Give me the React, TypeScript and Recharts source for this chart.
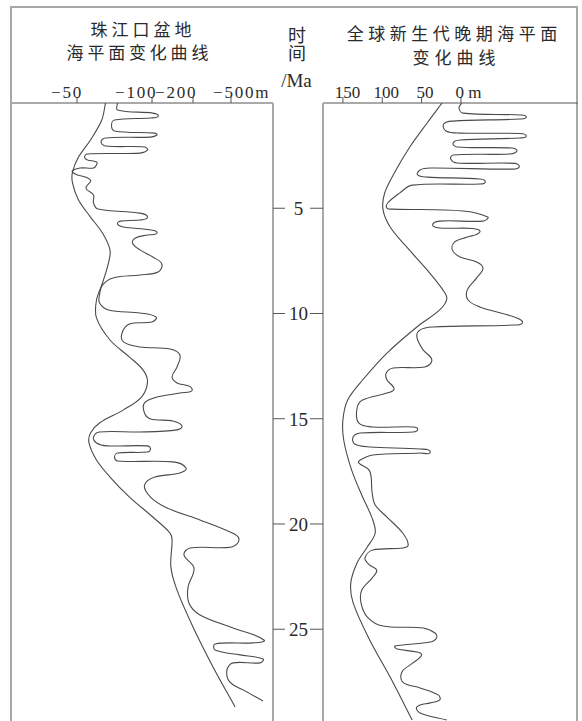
import React from 'react';
import { ScatterChart, Scatter, XAxis, YAxis } from 'recharts';

// ---- Pearl River Mouth Basin (珠江口盆地) sea-level curves: time (Ma) / level (m)
const prmbLongTime = [0, 0.81, 1.76, 2.57, 3.28, 3.8, 4.61, 5.42, 6.18, 6.98, 7.6, 8.55, 9.36, 10.21, 11.26, 12.07, 12.68, 13.25, 13.97, 14.58, 15.2, 15.68, 16.15, 16.96, 17.77, 18.72, 19.67, 20.43, 20.76, 22.04, 23.14, 24.89, 26.79, 28.69];
const prmbLongLevel = [-69, -66.5, -59, -51, -47, -47, -51, -59, -67, -72, -71, -67, -63, -63, -72, -85, -94, -97, -93, -81, -65, -59, -58, -63, -72, -85, -102, -144, -149, -146, -161, -200, -358, -532];

const prmbShortTime = [0, 0.33, 0.48, 0.62, 0.71, 0.81, 1.05, 1.33, 1.43, 1.52, 1.62, 1.66, 1.85, 2.04, 2.09, 2.23, 2.38, 2.42, 2.57, 2.71, 2.8, 2.95, 3.09, 3.09, 3.28, 3.66, 4.04, 4.37, 4.75, 5.04, 5.23, 5.42, 5.56, 5.61, 5.75, 5.89, 6.03, 6.18, 6.27, 6.41, 6.65, 6.98, 7.32, 7.65, 8.03, 8.17, 8.31, 8.65, 9.12, 9.5, 9.83, 9.98, 10.17, 10.4, 10.5, 10.93, 11.35, 11.59, 11.69, 11.97, 12.54, 13.02, 13.3, 13.59, 13.78, 13.97, 14.25, 14.73, 15.01, 15.11, 15.34, 15.53, 15.63, 15.63, 15.87, 16.15, 16.29, 16.29, 16.44, 16.58, 16.63, 16.82, 17.01, 17.05, 17.34, 17.58, 17.77, 18.15, 18.72, 19.24, 19.81, 20.38, 20.71, 21.09, 21.14, 21.47, 22.09, 22.99, 23.75, 24.32, 24.94, 25.51, 25.65, 25.7, 25.99, 26.22, 26.41, 26.6, 26.6, 26.94, 27.51, 27.98, 28.41];
const prmbShortLevel = [-77, -77, -102, -115, -99, -75, -73, -75, -107, -112, -99, -69, -66, -69, -95, -97, -92, -57, -55, -57, -63, -63, -61, -52, -47, -59, -56, -61, -61, -64, -92, -97, -92, -79, -77, -81, -99, -112, -97, -89, -87, -92, -102, -124, -115, -92, -74, -67, -65, -65, -71, -92, -110, -100, -85, -80, -81, -92, -144, -168, -161, -149, -161, -198, -168, -112, -95, -95, -99, -151, -173, -161, -92, -65, -61, -63, -70, -97, -99, -97, -77, -75, -77, -151, -183, -168, -107, -95, -99, -137, -255, -492, -563, -508, -193, -178, -208, -188, -190, -255, -516, -760, -674, -374, -374, -571, -753, -729, -516, -468, -492, -626, -753];

// ---- Global late Cenozoic sea-level curves (全球新生代晚期): time (Ma) / level (m)
const globalLongTime = [0, 0.95, 2.09, 3.28, 4.28, 5.08, 5.89, 6.84, 7.93, 8.88, 9.31, 9.83, 10.64, 11.88, 13.16, 14.11, 15.06, 16.01, 17.43, 18.72, 19.71, 20.43, 21.09, 21.85, 22.8, 23.75, 25.51, 27.27, 29.31];
const globalLongLevel = [24, 43, 65, 84, 97, 99, 90, 69, 43, 23, 18, 27, 56, 94, 125, 144, 150, 149, 139, 125, 113, 109, 119, 132, 140, 137, 116, 90, 62];

const globalShortTime = [0, 0.24, 0.48, 0.57, 0.67, 0.76, 0.86, 1.0, 1.33, 1.43, 1.45, 1.57, 1.66, 1.76, 1.9, 2.09, 2.14, 2.28, 2.42, 2.47, 2.66, 2.85, 2.87, 3.04, 3.14, 3.09, 3.18, 3.42, 3.52, 3.61, 3.75, 3.85, 3.9, 4.28, 4.75, 4.99, 5.04, 5.13, 5.42, 5.61, 5.61, 5.8, 5.94, 5.96, 6.13, 6.37, 6.6, 6.98, 7.32, 7.55, 7.84, 8.31, 8.88, 9.36, 9.69, 10.21, 10.45, 10.55, 10.64, 10.78, 11.12, 11.73, 12.21, 12.54, 12.59, 12.83, 13.16, 13.59, 13.78, 14.11, 14.49, 15.2, 15.39, 15.39, 15.49, 15.63, 15.68, 15.87, 16.2, 16.34, 16.44, 16.58, 16.63, 16.72, 16.96, 17.1, 17.48, 18.48, 19.1, 19.67, 20.43, 21.0, 21.14, 21.24, 21.62, 21.95, 22.19, 22.57, 23.14, 23.75, 24.42, 24.85, 24.94, 25.18, 25.42, 25.61, 25.8, 25.94, 26.08, 26.22, 26.6, 27.03, 27.51, 27.79, 28.12, 28.36, 28.5, 28.69, 28.98, 29.31];
const globalShortLevel = [-1, 2.5, -2.5, -75, -83, -75, 10, 22, 19, 1, -75, -83, -75, 1, 10, 5, -65, -71, -62, 10, 13, 5, -69, -74, -66, 39, 52, 55, 43, -24, -31, -24, 62, 78, 93, 94, 86, -2.5, -34, -28, 27, 36, 27, -15, -24, -8, 8, 11, 1, -20, -28, -20, -8, -9, -24, -71, -78, -66, 36, 52, 56, 48, 37, 46, 86, 95, 94, 85, 94, 125, 132, 130, 112, 61, 55, 61, 128, 137, 135, 116, 52, 39, 52, 112, 128, 130, 116, 113, 109, 94, 74, 67, 74, 112, 122, 116, 107, 113, 126, 127, 119, 99, 48, 33, 31, 39, 84, 81, 56, 50, 61, 75, 74, 52, 29, 27, 39, 56, 52, 18];

// ---- Axis ticks / labels
const timeTicks = [5, 10, 15, 20, 25];
const leftTickValues = [-50, -100, -200, -500];
const leftTickLabels = ['−50', '−100', '−200', '−500m'];
const rightTickValues = [150, 100, 50, 0];
const rightTickLabels = ['150', '100', '50', '0 m'];

// Non-linear depth scale of the left panel (anchors of the printed ticks)
const LEFT_SCALE_DEPTH = [50, 100, 200, 500];
const LEFT_SCALE_UNIT = [65, 140, 181, 219];
function depthToUnit(level: number) {
  const a = Math.abs(level);
  const D = LEFT_SCALE_DEPTH;
  const U = LEFT_SCALE_UNIT;
  const i = a <= D[1] ? 0 : a <= D[2] ? 1 : 2;
  return U[i] + ((a - D[i]) * (U[i + 1] - U[i])) / (D[i + 1] - D[i]);
}

const leftLong = prmbLongTime.map((t, i) => ({ x: depthToUnit(prmbLongLevel[i]), y: t }));
const leftShort = prmbShortTime.map((t, i) => ({ x: depthToUnit(prmbShortLevel[i]), y: t }));
const rightLong = globalLongTime.map((t, i) => ({ x: globalLongLevel[i], y: t }));
const rightShort = globalShortTime.map((t, i) => ({ x: globalShortLevel[i], y: t }));

const T_MAX = 29.36;
const SERIF = "'Liberation Serif', 'Times New Roman', 'DejaVu Serif', serif";
const CJK = "'Noto Sans CJK SC', 'Liberation Serif', sans-serif";
const INK = '#2a2a2a';
const CURVE = '#4a4a4a';
const FRAME = '#a8a8a8';

// smooth curve through points (tangent-limited cubic)
const smoothCurve = (context: any) => {
  let pts: number[][] = [];
  return {
    areaStart() {},
    areaEnd() {},
    lineStart() {
      pts = [];
    },
    point(x: number, y: number) {
      pts.push([+x, +y]);
    },
    lineEnd() {
      const n = pts.length;
      if (!n) return;
      context.moveTo(pts[0][0], pts[0][1]);
      if (n === 1) return;
      const tangent = (i: number) => {
        const a = pts[Math.max(0, i - 1)];
        const b = pts[Math.min(n - 1, i + 1)];
        const dx = b[0] - a[0];
        const dy = b[1] - a[1];
        const len = Math.hypot(dx, dy) || 1;
        return [dx / len, dy / len];
      };
      for (let i = 0; i < n - 1; i++) {
        const p1 = pts[i];
        const p2 = pts[i + 1];
        const L = Math.hypot(p2[0] - p1[0], p2[1] - p1[1]);
        const t1 = tangent(i);
        const t2 = tangent(i + 1);
        context.bezierCurveTo(
          p1[0] + (t1[0] * L) / 3,
          p1[1] + (t1[1] * L) / 3,
          p2[0] - (t2[0] * L) / 3,
          p2[1] - (t2[1] * L) / 3,
          p2[0],
          p2[1]
        );
      }
    },
  };
};

const noDot = () => <g />;

const LEFT_LABEL_DX = [-26, -37, -38, -18];
const renderLeftTick = (p: any) => (
  <text
    x={p.x + LEFT_LABEL_DX[p.index]}
    y={p.y + 2.5}
    textAnchor="start"
    fontSize={17}
    style={{ fontFamily: SERIF, letterSpacing: 1.8 }}
    fill={INK}
  >
    {leftTickLabels[p.index]}
  </text>
);

const RIGHT_LABEL_DX = [4.5, 4, 3.5, -5.5];
const renderRightTick = (p: any) => (
  <text
    x={p.x + RIGHT_LABEL_DX[p.index]}
    y={p.y + 2.5}
    textAnchor={p.index === 3 ? 'start' : 'middle'}
    fontSize={17}
    style={{ fontFamily: SERIF }}
    fill={INK}
  >
    {rightTickLabels[p.index]}
  </text>
);

const renderTimeTick = (p: any) => (
  <text x={p.x} y={p.y + 7} textAnchor="middle" fontSize={19} style={{ fontFamily: SERIF }} fill={INK}>
    {p.payload.value}
  </text>
);

const lineStyle = { stroke: CURVE, strokeWidth: 1.1 };

export default function App() {
  return (
    <div
      style={{
        position: 'absolute',
        left: 0,
        top: 0,
        width: 582,
        height: 721,
        overflow: 'hidden',
        background: '#fff',
      }}
    >
      <div
        style={{
          position: 'absolute',
          left: 10,
          top: 6,
          width: 564,
          height: 760,
          border: `2px solid ${FRAME}`,
          borderBottom: 'none',
        }}
      />
      <svg width={582} height={100} style={{ position: 'absolute', left: 0, top: 0 }}>
        <g style={{ fontFamily: CJK }} fill={INK} fontSize={17}>
          <text x={141 + 2} y={36} textAnchor="middle" style={{ letterSpacing: 4 }}>
            珠江口盆地
          </text>
          <text x={137.5 + 1.9} y={58.6} textAnchor="middle" style={{ letterSpacing: 3.8 }}>
            海平面变化曲线
          </text>
          <text x={452 + 2.25} y={40} textAnchor="middle" style={{ letterSpacing: 4.5 }}>
            全球新生代晚期海平面
          </text>
          <text x={454 + 2.5} y={64} textAnchor="middle" style={{ letterSpacing: 5 }}>
            变化曲线
          </text>
        </g>
        <text x={296.5} y={87} textAnchor="middle" fontSize={19} style={{ fontFamily: SERIF }} fill={INK}>
          /Ma
        </text>
      </svg>
      <div
        style={{
          position: 'absolute',
          left: 286,
          top: 26,
          height: 40,
          writingMode: 'vertical-rl',
          fontFamily: CJK,
          fontSize: 18,
          lineHeight: '22px',
          letterSpacing: 0.5,
          color: INK,
        }}
      >
        时间
      </div>

      <div style={{ position: 'absolute', left: 12, top: 0 }}>
        <ScatterChart width={311} height={721} margin={{ top: 73, right: 0, bottom: 0, left: 0 }}>
          <XAxis
            type="number"
            dataKey="x"
            orientation="top"
            domain={[0, 261]}
            allowDataOverflow
            ticks={leftTickValues.map(depthToUnit)}
            interval={0}
            height={30}
            tickSize={6}
            tickMargin={2}
            axisLine={{ stroke: '#555', strokeWidth: 1 }}
            tickLine={{ stroke: '#555' }}
            tick={renderLeftTick}
          />
          <YAxis
            type="number"
            dataKey="y"
            orientation="right"
            width={50}
            domain={[0, T_MAX]}
            allowDataOverflow
            reversed
            ticks={timeTicks}
            interval={0}
            tickSize={12}
            tickMargin={13.5}
            axisLine={{ stroke: FRAME, strokeWidth: 2 }}
            tickLine={{ stroke: '#555' }}
            tick={renderTimeTick}
          />
          <Scatter data={leftLong} line={lineStyle} lineJointType={smoothCurve as any} shape={noDot} isAnimationActive={false} />
          <Scatter data={leftShort} line={lineStyle} lineJointType={smoothCurve as any} shape={noDot} isAnimationActive={false} />
        </ScatterChart>
      </div>

      <div style={{ position: 'absolute', left: 273, top: 0 }}>
        <ScatterChart width={305} height={721} margin={{ top: 73, right: 0, bottom: 0, left: 0 }}>
          <XAxis
            type="number"
            dataKey="x"
            orientation="top"
            domain={[-148.7, 175.3]}
            allowDataOverflow
            reversed
            ticks={rightTickValues}
            interval={0}
            height={30}
            tickSize={6}
            tickMargin={2}
            axisLine={{ stroke: '#555', strokeWidth: 1 }}
            tickLine={{ stroke: '#555' }}
            tick={renderRightTick}
          />
          <YAxis
            type="number"
            dataKey="y"
            orientation="left"
            width={50}
            domain={[0, T_MAX]}
            allowDataOverflow
            reversed
            ticks={timeTicks}
            interval={0}
            tickSize={13}
            axisLine={{ stroke: FRAME, strokeWidth: 2 }}
            tickLine={{ stroke: '#555' }}
            tick={noDot}
          />
          <Scatter data={rightLong} line={lineStyle} lineJointType={smoothCurve as any} shape={noDot} isAnimationActive={false} />
          <Scatter data={rightShort} line={lineStyle} lineJointType={smoothCurve as any} shape={noDot} isAnimationActive={false} />
        </ScatterChart>
      </div>
    </div>
  );
}
